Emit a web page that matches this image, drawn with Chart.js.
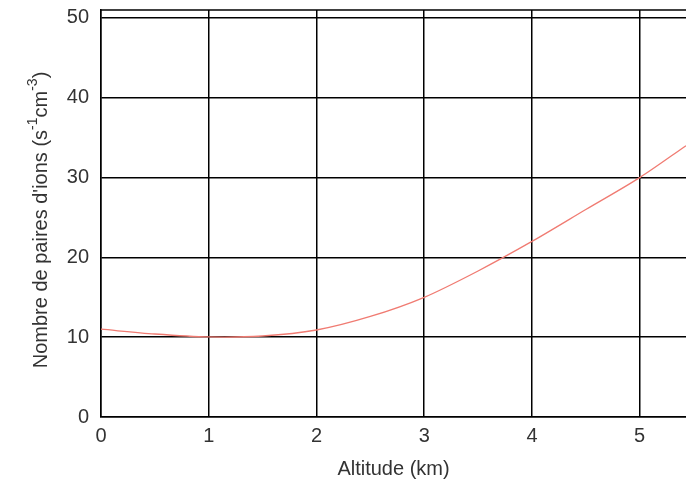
<!DOCTYPE html>
<html>
<head>
<meta charset="utf-8">
<script src="https://cdn.jsdelivr.net/npm/chart.js@4"></script>
<style>
  html, body { margin: 0; padding: 0; background: #fff; }
  #wrap { width: 686px; height: 485px; }
</style>
</head>
<body>
<div id="wrap"><canvas id="chart-ions"></canvas></div>
<script>
const altitudes = [0, 0.5, 1, 1.5, 2, 2.5, 3, 3.5, 4, 4.5, 5, 5.43];
const ionPairs = [11, 10.4, 10.03, 10.15, 10.9, 12.6, 15, 18.3, 22, 26, 30, 34];

const FONT = "'Liberation Sans', Arial, sans-serif";

// y title with superscripts, rotated; plus the top edge of the frame
const yTitlePlugin = {
    id: "yTitle",
    afterDraw(chart) {
        const ctx = chart.ctx;
        const area = chart.chartArea;
        const parts = [
            { t: "Nombre de paires d'ions (s", sup: false },
            { t: "-1", sup: true },
            { t: "cm", sup: false },
            { t: "-3", sup: true },
            { t: ")", sup: false },
        ];
        ctx.save();
        ctx.translate(41, 220);
        ctx.rotate(-Math.PI / 2);
        ctx.fillStyle = "#333";
        ctx.textBaseline = "middle";
        let total = 0;
        parts.forEach((p) => {
            ctx.font = (p.sup ? "14px " : "20px ") + FONT;
            total += ctx.measureText(p.t).width;
        });
        let x = -total / 2;
        parts.forEach((p) => {
            ctx.font = (p.sup ? "14px " : "20px ") + FONT;
            ctx.fillText(p.t, x, p.sup ? -8 : 0);
            x += ctx.measureText(p.t).width;
        });
        ctx.restore();

        ctx.save();
        ctx.strokeStyle = "#000";
        ctx.lineWidth = 1.5;
        ctx.beginPath();
        ctx.moveTo(area.left, area.top);
        ctx.lineTo(area.right, area.top);
        ctx.stroke();
        ctx.restore();
    },
};

function noPad(scale) {
    scale.paddingTop = 0;
    scale.paddingBottom = 0;
    scale.paddingLeft = 0;
    scale.paddingRight = 0;
}

const ctx = document.getElementById("chart-ions").getContext("2d");
new Chart(ctx, {
    type: "line",
    data: {
        datasets: [
            {
                data: altitudes.map((a, i) => ({ x: a, y: ionPairs[i] })),
                borderColor: "#f07b72",
                borderWidth: 1.3,
                pointRadius: 0,
                tension: 0.3,
                fill: false,
            },
        ],
    },
    options: {
        responsive: true,
        maintainAspectRatio: false,
        animation: false,
        layout: { padding: { top: 10, right: 0, left: 0, bottom: 0 } },
        plugins: {
            legend: { display: false },
            tooltip: { enabled: false },
        },
        scales: {
            x: {
                type: "linear",
                min: 0,
                max: 5.43,
                afterFit: (scale) => { scale.height = 68; noPad(scale); },
                ticks: {
                    stepSize: 1,
                    includeBounds: false,
                    color: "#333",
                    font: { family: FONT, size: 20 },
                    padding: 7,
                },
                grid: { color: "#000", lineWidth: 1.5, drawTicks: false },
                border: { color: "#000", width: 1.5 },
                title: {
                    display: true,
                    text: "Altitude (km)",
                    color: "#333",
                    font: { family: FONT, size: 20 },
                    padding: { top: 4 },
                },
            },
            y: {
                min: 0,
                max: 51,
                afterFit: (scale) => { scale.width = 101; noPad(scale); },
                ticks: {
                    stepSize: 10,
                    includeBounds: false,
                    color: "#333",
                    font: { family: FONT, size: 20 },
                    padding: 12,
                },
                grid: { color: "#000", lineWidth: 1.5, drawTicks: false },
                border: { color: "#000", width: 1.5 },
            },
        },
    },
    plugins: [yTitlePlugin],
});
</script>
</body>
</html>
